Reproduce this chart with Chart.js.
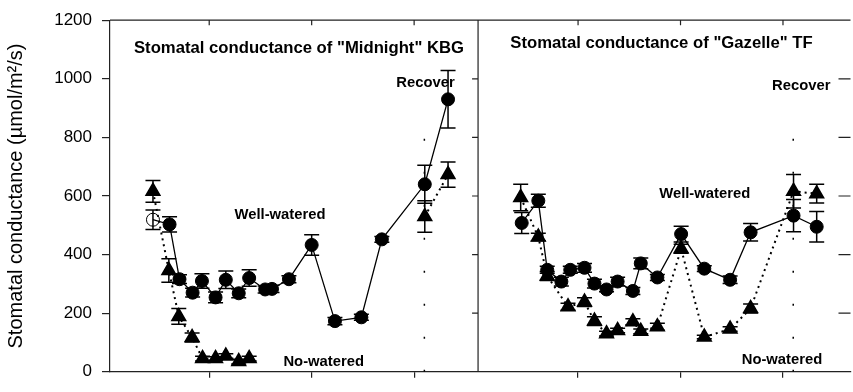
<!DOCTYPE html>
<html>
<head>
<meta charset="utf-8">
<script src="https://cdn.jsdelivr.net/npm/chart.js@4"></script>
<style>
  html, body { margin: 0; padding: 0; background: #fff; overflow: hidden; }
  #wrap { width: 860px; height: 392px; position: relative; }
</style>
</head>
<body>
<div id="wrap"><canvas id="chart"></canvas></div>
<script>
// x is "day" of the experiment; the right panel sits 36 days further along one shared axis
const PANEL_SHIFT = 36;
const dayTicks = [10, 20, 30];
const yTicks = [0, 200, 400, 600, 800, 1000, 1200];

// "Midnight" KBG, well-watered (first point drawn open)
const kbgWetDays = [4.51, 6.13, 7.10, 8.38, 9.29, 10.62, 11.62, 12.88, 13.90, 15.46, 16.13, 17.78, 20.0, 22.27, 24.85, 26.85, 31.04, 33.31];
const kbgWetVals = [519, 503, 316, 270, 310, 254, 314, 268, 320, 281, 283, 316, 433, 173, 186, 452, 640, 930];
const kbgWetErr  = [33, 26, 15, 15, 25, 18, 30, 15, 28, 12, 12, 12, 35, 12, 10, 10, 65, 98];

// "Midnight" KBG, no-watered (null = no measurement, line breaks)
const kbgDryDays = [4.51, 6.06, 7.03, 8.33, 9.35, 10.62, 11.62, 12.88, 13.90, 22.0, 31.04, 33.31];
const kbgDryVals = [616, 346, 189, 117, 45, 45, 54, 35, 45, null, 530, 673];
const kbgDryErr  = [37, 40, 27, 15, 8, 6, 8, 8, 8, 0, 54, 43];

// "Gazelle" TF, well-watered
const tfWetDays = [4.50, 6.12, 6.99, 8.37, 9.24, 10.63, 11.60, 12.78, 13.86, 15.35, 16.12, 17.74, 20.06, 22.32, 24.84, 26.84, 31.03, 33.29];
const tfWetVals = [508, 584, 348, 308, 348, 355, 301, 281, 308, 276, 370, 322, 470, 352, 314, 476, 533, 495];
const tfWetErr  = [36, 22, 12, 15, 12, 15, 15, 8, 15, 12, 18, 10, 27, 10, 13, 30, 55, 52];

// "Gazelle" TF, no-watered
const tfDryDays = [4.40, 6.12, 6.99, 9.02, 10.63, 11.60, 12.78, 13.86, 15.35, 16.12, 17.74, 20.06, 22.32, 24.84, 26.84, 31.03, 33.29];
const tfDryVals = [595, 460, 327, 222, 238, 173, 130, 141, 171, 138, 154, 420, 119, 146, 216, 616, 608];
const tfDryErr  = [45, 13, 15, 12, 15, 15, 8, 8, 10, 8, 12, 15, 6, 8, 15, 57, 32];

// re-watering marker (dotted vertical)
const recoverDay = 31.0;
const recoverTop = [897, 880];

const AXIS = '#222';
const FONT = 'Arial, "Liberation Sans", sans-serif';

function pts(days, vals, shift) {
  return days.map((d, i) => ({ x: d + shift, y: vals[i] }));
}

function wetSet(days, vals, errs, shift, openFirst) {
  return {
    data: pts(days, vals, shift),
    errors: errs,
    showLine: true,
    borderColor: '#000',
    borderWidth: 1.3,
    pointStyle: 'circle',
    pointRadius: 6.5,
    pointBorderColor: '#000',
    pointBorderWidth: 1,
    pointBackgroundColor: days.map((d, i) => (openFirst && i === 0 ? 'rgba(255,255,255,0)' : '#000')),
    order: 1
  };
}

function drySet(days, vals, errs, shift) {
  return {
    data: pts(days, vals, shift),
    errors: errs,
    showLine: true,
    spanGaps: false,
    borderColor: '#000',
    borderWidth: 2,
    borderDash: [2, 4],
    pointStyle: 'triangle',
    pointRadius: 7.5,
    pointBackgroundColor: '#000',
    pointBorderColor: '#000',
    order: 2
  };
}

function markerSet(shift, top) {
  return {
    data: [{ x: recoverDay + shift, y: 0 }, { x: recoverDay + shift, y: top }],
    showLine: true,
    borderColor: '#000',
    borderWidth: 1.5,
    borderDash: [2, 31],
    pointRadius: 0,
    order: 3
  };
}

const labels = [
  { text: 'Stomatal conductance of "Midnight" KBG', x: 299, y: 48, size: 16.7 },
  { text: 'Stomatal conductance of "Gazelle" TF', x: 661.5, y: 43.5, size: 16.7 },
  { text: 'Well-watered', x: 280, y: 215, size: 14.8 },
  { text: 'No-watered', x: 323.7, y: 362, size: 14.8 },
  { text: 'Recover', x: 425.5, y: 83, size: 14.8 },
  { text: 'Well-watered', x: 704.7, y: 193.5, size: 14.8 },
  { text: 'No-watered', x: 782, y: 360, size: 14.8 },
  { text: 'Recover', x: 801.2, y: 86, size: 14.8 }
];

// error bars drawn from each dataset's errors array
const errorBars = {
  id: 'errorBars',
  afterDatasetsDraw(chart) {
    const { ctx, scales: { y } } = chart;
    ctx.save();
    ctx.strokeStyle = '#000';
    ctx.lineWidth = 1.5;
    chart.data.datasets.forEach((ds, di) => {
      if (!ds.errors) return;
      const meta = chart.getDatasetMeta(di);
      meta.data.forEach((el, i) => {
        const v = ds.data[i].y;
        const e = ds.errors[i];
        if (v == null || !e) return;
        const x = el.x;
        const y1 = y.getPixelForValue(v + e);
        const y2 = y.getPixelForValue(v - e);
        ctx.beginPath();
        ctx.moveTo(x, y1); ctx.lineTo(x, y2);
        ctx.moveTo(x - 7.5, y1); ctx.lineTo(x + 7.5, y1);
        ctx.moveTo(x - 7.5, y2); ctx.lineTo(x + 7.5, y2);
        ctx.stroke();
      });
    });
    ctx.restore();
  }
};

// box frame, divider between panels, inner ticks and panel texts
const frame = {
  id: 'frame',
  afterDraw(chart) {
    const { ctx, chartArea: a, scales: { x, y } } = chart;
    const xd = x.getPixelForValue(PANEL_SHIFT + 0.24);
    ctx.save();
    ctx.strokeStyle = AXIS;
    ctx.lineWidth = 1.2;
    ctx.beginPath();
    ctx.moveTo(a.left, a.top); ctx.lineTo(a.right, a.top);
    ctx.moveTo(xd, a.top); ctx.lineTo(xd, a.bottom);
    [0, PANEL_SHIFT].forEach(s => dayTicks.forEach(d => {
      const px = x.getPixelForValue(d + s);
      ctx.moveTo(px, a.top); ctx.lineTo(px, a.top + 5);
    }));
    yTicks.slice(1, -1).forEach(v => {
      const py = y.getPixelForValue(v);
      ctx.moveTo(xd - 6, py); ctx.lineTo(xd, py);
      ctx.moveTo(a.right - 12, py); ctx.lineTo(a.right, py);
    });
    ctx.stroke();

    ctx.fillStyle = '#000';
    ctx.textAlign = 'center';
    ctx.textBaseline = 'middle';
    labels.forEach(l => {
      ctx.font = 'bold ' + l.size + 'px ' + FONT;
      ctx.fillText(l.text, l.x, l.y);
    });
    ctx.restore();
  }
};

new Chart(document.getElementById('chart'), {
  type: 'scatter',
  data: {
    datasets: [
      wetSet(kbgWetDays, kbgWetVals, kbgWetErr, 0, true),
      drySet(kbgDryDays, kbgDryVals, kbgDryErr, 0),
      markerSet(0, recoverTop[0]),
      wetSet(tfWetDays, tfWetVals, tfWetErr, PANEL_SHIFT, false),
      drySet(tfDryDays, tfDryVals, tfDryErr, PANEL_SHIFT),
      markerSet(PANEL_SHIFT, recoverTop[1])
    ]
  },
  options: {
    responsive: true,
    maintainAspectRatio: false,
    animation: false,
    layout: { padding: { left: 0, top: 16, right: 3.6, bottom: 0 } },
    plugins: { legend: { display: false }, tooltip: { enabled: false } },
    scales: {
      x: {
        type: 'linear',
        min: 0.317,
        max: 72.59,
        afterBuildTicks: s => {
          s.ticks = [0, PANEL_SHIFT].flatMap(sh => dayTicks.map(d => ({ value: d + sh })));
        },
        afterFit: s => { s.height = 5.3; },
        ticks: { display: false },
        grid: { drawOnChartArea: false, drawTicks: true, tickLength: 6, color: AXIS, lineWidth: 1.2 },
        border: { display: true, color: AXIS, width: 1.2 }
      },
      y: {
        min: 0,
        max: 1200,
        afterBuildTicks: s => { s.ticks = yTicks.map(v => ({ value: v })); },
        afterFit: s => { s.width = 110; },
        ticks: {
          color: '#000',
          padding: 10,
          font: { family: FONT, size: 17 },
          callback: v => String(v)
        },
        grid: { drawOnChartArea: false, drawTicks: true, tickLength: 8, color: AXIS, lineWidth: 1.2 },
        border: { display: true, color: AXIS, width: 1.2 },
        title: {
          display: true,
          text: 'Stomatal conductance (\u00b5mol/m\u00b2/s)',
          color: '#000',
          font: { family: FONT, size: 20 },
          padding: { top: 4, bottom: 0 }
        }
      }
    }
  },
  plugins: [errorBars, frame]
});
</script>
</body>
</html>
